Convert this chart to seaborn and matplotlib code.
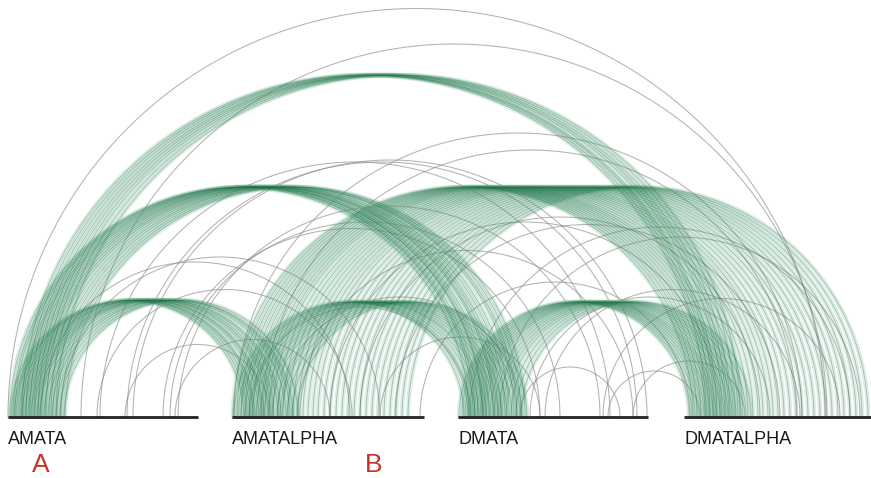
import numpy as np
import pandas as pd
import matplotlib
matplotlib.use("Agg")
import matplotlib.pyplot as plt
import seaborn as sns

# loci drawn along the baseline
loci = ["AMATA", "AMATALPHA", "DMATA", "DMATALPHA"]
locus_start = [8, 232, 458, 684]
locus_len = [190, 192, 190, 187]

# homologous hits, positions inside each locus (source -> target)
a_al_src = [3, 6, 8, 11, 14, 17, 20, 23, 26, 29, 32, 36, 40, 44, 48, 52, 56]
a_al_dst = [12, 15, 18, 21, 23, 27, 30, 32, 36, 39, 42, 46, 49, 54, 58, 61, 66]

a_d_src = [2, 5, 7, 10, 13, 15, 18, 21, 24, 27, 30, 33, 37, 41, 45, 49, 53, 57]
a_d_dst = [11, 15, 17, 20, 24, 25, 28, 31, 35, 37, 40, 43, 47, 51, 56, 59, 63, 67]

a_dl_src = [14, 18, 22, 26, 30, 34, 38, 43, 48]
a_dl_dst = [22, 26, 30, 33, 38, 42, 46, 51, 56]

al_d_src = [2, 6, 9, 13, 17, 20, 24, 28, 32, 36, 40, 45, 50, 55, 60, 65]
al_d_dst = [6, 10, 13, 17, 21, 25, 28, 32, 36, 40, 44, 49, 54, 59, 64, 69]

al_dl_src = [1, 5, 9, 13, 17, 21, 25, 29, 33, 37, 41, 46, 51, 56, 61, 66, 71, 76,
             81, 86, 92, 98, 104, 110, 116, 122, 128, 134, 140, 146, 152, 158, 164, 170, 176]
al_dl_dst = [9, 13, 17, 21, 25, 29, 33, 37, 41, 45, 49, 54, 59, 64, 69, 74, 79, 84,
             89, 94, 100, 106, 112, 118, 124, 130, 136, 142, 148, 154, 160, 166, 172, 178, 184]

d_dl_src = [1, 4, 7, 10, 13, 16, 19, 22, 25, 28, 32, 36, 40, 44, 48, 53, 58, 63]
d_dl_dst = [5, 8, 11, 14, 17, 20, 23, 26, 29, 32, 36, 40, 44, 48, 52, 57, 62, 67]

# weak hits (grey), given as (locus, position)
weak_src_locus = [0, 0, 1, 1, 0, 0, 0, 0, 0, 0, 0, 1, 1, 1, 1, 1, 2, 2, 2, 2, 2, 2, 2,
                  1, 1, 0, 0, 2, 1, 0, 0]
weak_src_pos = [0, 73, 2, 31, 125, 92, 119, 155, 162, 170, 89, 68, 98, 128, 163, 188,
                12, 42, 72, 87, 145, 150, 175, 18, 48, 32, 52, 62, 148, 117, 167]
weak_dst_locus = [3, 3, 3, 3, 2, 2, 2, 2, 2, 2, 1, 2, 3, 3, 3, 3, 3, 3, 3, 3, 3, 3, 3,
                  2, 2, 1, 1, 2, 2, 1, 1]
weak_dst_pos = [141, 143, 118, 113, 189, 152, 179, 82, 102, 142, 120, 175, 36, 76, 96, 6,
                166, 176, 86, 116, 156, 16, 61, 12, 62, 118, 148, 162, 82, 38, 98]


def arc_frame(src_locus, src_pos, dst_locus, dst_pos):
    rows = []
    t = np.linspace(0, np.pi, 140)
    for i, (sl, sp, dl, dp) in enumerate(zip(src_locus, src_pos, dst_locus, dst_pos)):
        x1 = locus_start[sl] + sp
        x2 = locus_start[dl] + dp
        cx, r = (x1 + x2) / 2, abs(x2 - x1) / 2
        rows.append(pd.DataFrame({"x": cx - r * np.cos(t), "y": r * np.sin(t), "arc": i}))
    return pd.concat(rows, ignore_index=True)


def bundle(a, b, src, dst):
    return arc_frame([a] * len(src), src, [b] * len(dst), dst)


green = pd.concat([
    bundle(0, 1, a_al_src, a_al_dst).assign(arc=lambda d: d.arc + 0),
    bundle(0, 2, a_d_src, a_d_dst).assign(arc=lambda d: d.arc + 100),
    bundle(0, 3, a_dl_src, a_dl_dst).assign(arc=lambda d: d.arc + 200),
    bundle(1, 2, al_d_src, al_d_dst).assign(arc=lambda d: d.arc + 300),
    bundle(1, 3, al_dl_src, al_dl_dst).assign(arc=lambda d: d.arc + 400),
    bundle(2, 3, d_dl_src, d_dl_dst).assign(arc=lambda d: d.arc + 500),
], ignore_index=True)
grey = arc_frame(weak_src_locus, weak_src_pos, weak_dst_locus, weak_dst_pos)

sns.set_theme(style="white")
plt.rcParams["font.family"] = ["Liberation Sans", "DejaVu Sans"]

fig = plt.figure(figsize=(8.71, 4.78), dpi=100)
ax = fig.add_axes([0, 0, 1, 1])

sns.lineplot(data=grey, x="x", y="y", units="arc", estimator=None, sort=False,
             color="#8a8a8a", linewidth=0.75, alpha=0.65, ax=ax, legend=False)
sns.lineplot(data=green, x="x", y="y", units="arc", estimator=None, sort=False,
             color="#6aae8a", linewidth=3.2, alpha=0.22, ax=ax, legend=False)
sns.lineplot(data=green, x="x", y="y", units="arc", estimator=None, sort=False,
             color="#1f6b47", linewidth=0.6, alpha=0.35, ax=ax, legend=False)

for name, s, n in zip(loci, locus_start, locus_len):
    ax.plot([s, s + n], [0, 0], color="#222222", lw=2, solid_capstyle="butt")
    ax.text(s, -22, name, fontsize=13, color="#1a1a1a", va="center", ha="left")

ax.text(41, -48, "A", fontsize=19, color="#c8302a", ha="center", va="center")
ax.text(374, -48, "B", fontsize=19, color="#c8302a", ha="center", va="center")

ax.set_xlim(0, 871)
ax.set_ylim(-61, 417)
ax.set_axis_off()

fig.savefig("out.png", dpi=100)
